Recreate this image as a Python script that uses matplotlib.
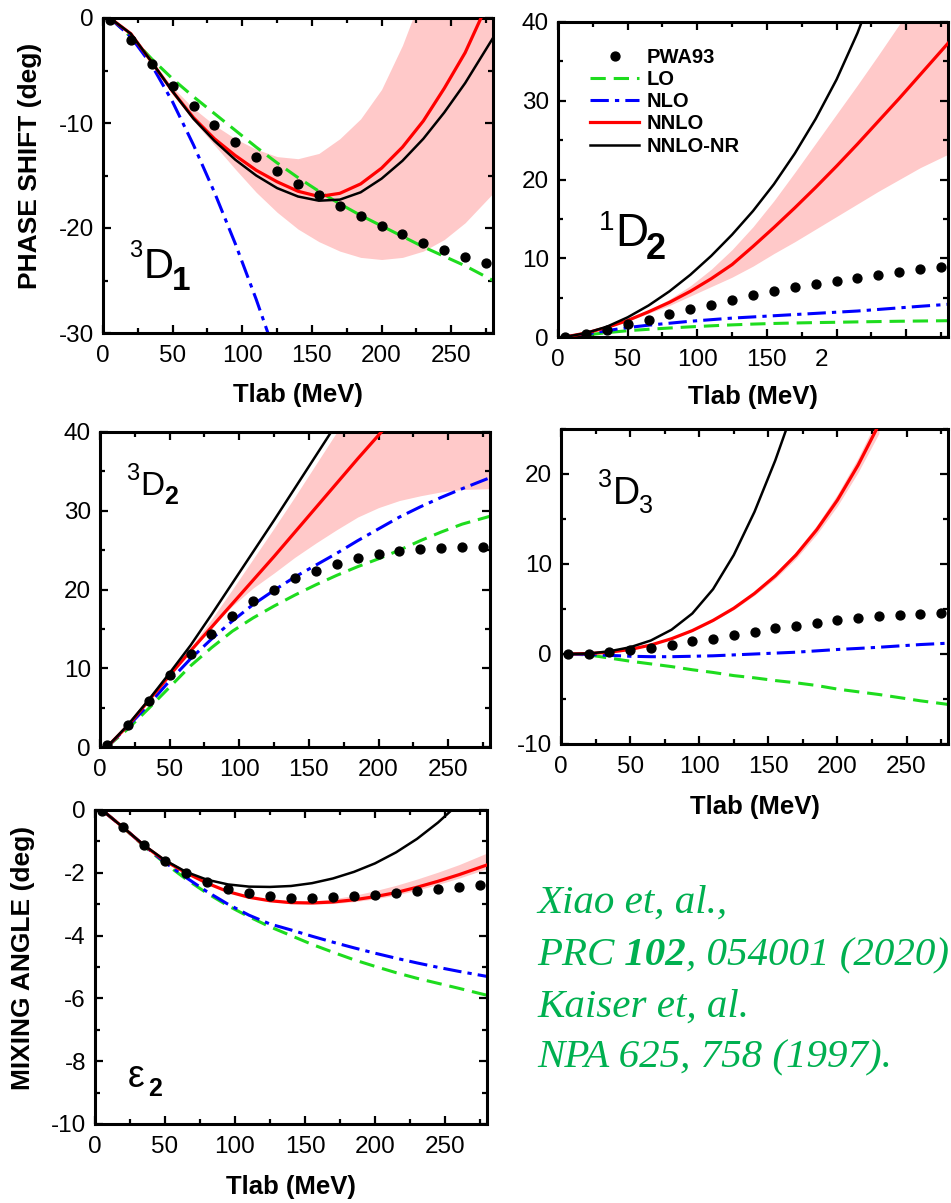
import matplotlib
matplotlib.use('Agg')
import matplotlib.pyplot as plt
from matplotlib.ticker import MultipleLocator, FixedLocator, FixedFormatter
import matplotlib.transforms as mtransforms

plt.rcParams['font.family'] = ['Liberation Sans', 'DejaVu Sans']
plt.rcParams['axes.unicode_minus'] = False

# ---------------- data ----------------
T_PWA = [5, 20, 35, 50, 65, 80, 95, 110, 125, 140, 155, 170, 185, 200, 215, 230, 245, 260, 275]
T_C = [5, 20, 35, 50, 65, 80, 95, 110, 125, 140, 155, 170, 185, 200, 215, 230, 245, 260, 280]

# 3D1
d1_pwa = [-0.2, -2.1, -4.35, -6.5, -8.4, -10.2, -11.8, -13.2, -14.6, -15.8, -16.9, -17.9, -18.9, -19.8, -20.6, -21.4, -22.1, -22.8, -23.3]
d1_lo = [0, -1.8, -3.9, -5.8, -7.5, -9.1, -10.7, -12.3, -13.8, -15.2, -16.5, -17.7, -18.8, -19.8, -20.8, -21.8, -22.7, -23.6, -25.0]
d1_nlo_T = [5, 20, 35, 50, 65, 80, 95, 110, 125]
d1_nlo = [0, -1.8, -4.5, -8.0, -12.1, -16.6, -21.5, -26.8, -32.5]
d1_nnlo = [0, -1.5, -4.2, -7.0, -9.5, -11.5, -13.1, -14.5, -15.6, -16.5, -17.0, -16.7, -15.8, -14.3, -12.3, -9.8, -6.7, -3.3, 2.5]
d1_nr = [0, -1.5, -4.2, -7.0, -9.6, -11.7, -13.5, -15.0, -16.2, -17.0, -17.4, -17.3, -16.6, -15.3, -13.6, -11.5, -9.0, -6.2, -1.9]
d1_band_hi = [0, -1.5, -4.1, -6.6, -8.6, -10.2, -11.5, -12.5, -13.2, -13.4, -12.9, -11.5, -9.6, -6.8, -2.6, 2.6, 8.5, 15.0, 24.0]
d1_band_lo = [0, -1.5, -4.3, -7.3, -9.8, -12.1, -14.4, -16.6, -18.5, -20.1, -21.3, -22.2, -22.8, -23.0, -22.8, -22.2, -21.1, -19.5, -16.7]

# 1D2
s2_pwa = [0, 0.4, 0.9, 1.6, 2.2, 2.9, 3.5, 4.1, 4.7, 5.3, 5.8, 6.3, 6.7, 7.1, 7.5, 7.9, 8.2, 8.6, 8.9]
s2_lo = [0, 0.25, 0.55, 0.8, 0.98, 1.14, 1.29, 1.42, 1.54, 1.64, 1.72, 1.78, 1.83, 1.87, 1.92, 1.96, 2.0, 2.03, 2.07]
s2_nlo = [0, 0.35, 0.8, 1.2, 1.5, 1.75, 2.0, 2.2, 2.4, 2.55, 2.7, 2.85, 3.0, 3.15, 3.3, 3.5, 3.7, 3.9, 4.15]
s2_nnlo = [0, 0.5, 1.2, 2.1, 3.2, 4.4, 5.8, 7.4, 9.2, 11.5, 13.9, 16.4, 19.0, 21.7, 24.5, 27.4, 30.3, 33.3, 37.3]
s2_nr_T = [5, 20, 35, 50, 65, 80, 95, 110, 125, 140, 155, 170, 185, 200, 215, 230]
s2_nr = [0, 0.5, 1.3, 2.5, 4.0, 5.8, 7.9, 10.3, 13.0, 16.0, 19.4, 23.3, 27.7, 32.7, 38.6, 45.5]
s2_band_hi = [0, 0.5, 1.25, 2.2, 3.4, 4.8, 6.5, 8.6, 11.1, 14.0, 17.3, 20.9, 24.6, 28.3, 32.0, 35.8, 39.7, 43.7, 49.0]
s2_band_lo = [0, 0.5, 1.15, 2.0, 3.0, 4.0, 5.2, 6.4, 7.6, 9.0, 10.6, 12.1, 13.7, 15.3, 16.9, 18.5, 20.0, 21.5, 23.2]

# 3D2
d2_pwa = [0.2, 2.8, 5.9, 9.1, 11.8, 14.4, 16.6, 18.5, 20.0, 21.4, 22.4, 23.3, 24.0, 24.5, 24.9, 25.2, 25.3, 25.4, 25.4]
d2_lo = [0, 2.3, 4.9, 7.6, 10.3, 12.6, 14.7, 16.4, 17.9, 19.3, 20.6, 21.8, 22.9, 23.9, 25.0, 26.2, 27.3, 28.3, 29.3]
d2_nlo = [0, 2.6, 5.4, 8.4, 11.2, 13.7, 16.0, 18.1, 19.9, 21.6, 23.1, 24.6, 26.2, 27.7, 29.2, 30.5, 31.7, 32.8, 34.2]
d2_nnlo_T = [5, 20, 35, 50, 65, 80, 95, 110, 125, 140, 155, 170, 185, 200, 215]
d2_nnlo = [0, 2.7, 5.9, 9.1, 12.2, 15.2, 18.2, 21.2, 24.2, 27.3, 30.4, 33.5, 36.6, 39.6, 42.6]
d2_nr_T = [5, 20, 35, 50, 65, 80, 95, 110, 125, 140, 155, 170, 185]
d2_nr = [0, 2.8, 6.0, 9.4, 12.9, 16.8, 20.8, 24.8, 28.8, 32.9, 37.0, 41.1, 45.0]
d2_band_hi = [0, 2.75, 5.95, 9.3, 12.6, 16.2, 20.0, 23.9, 27.8, 31.8, 35.9, 40.0, 44.0, 48.0, 52.0, 56.0, 60.0, 64.0, 69.0]
d2_band_lo = [0, 2.7, 5.9, 9.1, 12.3, 15.2, 17.9, 20.2, 22.1, 24.1, 25.9, 27.6, 29.2, 30.4, 31.3, 31.9, 32.4, 32.7, 32.8]

# 3D3
d3_pwa = [0, 0, 0.2, 0.4, 0.7, 1.0, 1.4, 1.7, 2.1, 2.5, 2.85, 3.15, 3.5, 3.8, 4.0, 4.2, 4.3, 4.45, 4.55]
d3_lo = [0, -0.1, -0.45, -0.8, -1.1, -1.4, -1.75, -2.05, -2.4, -2.65, -2.95, -3.2, -3.5, -3.9, -4.2, -4.5, -4.85, -5.2, -5.6]
d3_nlo = [0, -0.05, -0.15, -0.25, -0.3, -0.3, -0.25, -0.2, -0.1, 0.0, 0.1, 0.2, 0.35, 0.5, 0.62, 0.75, 0.9, 1.05, 1.2]
d3_nnlo_T = [5, 20, 35, 50, 65, 80, 95, 110, 125, 140, 155, 170, 185, 200, 215, 230]
d3_nnlo = [0, 0.05, 0.2, 0.5, 1.0, 1.7, 2.6, 3.73, 5.08, 6.73, 8.68, 11.0, 13.8, 17.1, 21.0, 25.5]
d3_nr_T = [5, 20, 35, 50, 65, 80, 95, 110, 125, 140, 155, 170]
d3_nr = [0, 0.05, 0.3, 0.75, 1.5, 2.7, 4.5, 7.2, 11.0, 15.8, 21.5, 28.0]
d3_band_hi = [0, 0.05, 0.2, 0.5, 1.0, 1.75, 2.68, 3.83, 5.23, 6.93, 8.98, 11.4, 14.3, 17.75, 21.8, 26.5]
d3_band_lo = [0, 0.05, 0.2, 0.5, 1.0, 1.65, 2.52, 3.63, 4.93, 6.53, 8.38, 10.6, 13.3, 16.45, 20.2, 24.5]

# epsilon 2
e2_pwa = [-0.03, -0.53, -1.11, -1.61, -2.0, -2.28, -2.52, -2.63, -2.74, -2.79, -2.79, -2.77, -2.74, -2.70, -2.63, -2.57, -2.50, -2.46, -2.40]
e2_lo = [0, -0.55, -1.15, -1.7, -2.2, -2.65, -3.05, -3.4, -3.72, -4.0, -4.28, -4.53, -4.77, -4.98, -5.18, -5.36, -5.52, -5.68, -5.9]
e2_nlo = [0, -0.55, -1.13, -1.67, -2.15, -2.6, -3.0, -3.35, -3.63, -3.82, -4.02, -4.21, -4.39, -4.56, -4.72, -4.87, -5.01, -5.14, -5.3]
e2_nnlo = [0, -0.55, -1.13, -1.62, -2.0, -2.33, -2.6, -2.78, -2.89, -2.95, -2.96, -2.93, -2.86, -2.76, -2.63, -2.46, -2.27, -2.06, -1.75]
e2_nr = [0, -0.55, -1.12, -1.6, -1.97, -2.22, -2.37, -2.44, -2.45, -2.42, -2.33, -2.18, -1.97, -1.70, -1.35, -0.92, -0.40, 0.21, 1.1]
e2_band_hi = [0, -0.55, -1.13, -1.62, -2.0, -2.33, -2.6, -2.77, -2.87, -2.92, -2.9, -2.83, -2.72, -2.57, -2.4, -2.2, -1.98, -1.74, -1.37]
e2_band_lo = [0, -0.55, -1.13, -1.62, -2.0, -2.33, -2.6, -2.79, -2.91, -2.98, -3.0, -2.98, -2.92, -2.83, -2.71, -2.55, -2.37, -2.17, -1.87]

legend_labels = ['PWA93', 'LO', 'NLO', 'NNLO', 'NNLO-NR']
p2_xticks = [0, 50, 100, 150, 200, 250]
p2_xticklabels = ['0', '50', '100', '150', '2', '']

citation_lines = ['Xiao et, al.,', 'PRC', ' 102', ', 054001 (2020)', 'Kaiser et, al.', 'NPA 625, 758 (1997).']

# ---------------- styles ----------------
C_LO = '#1EDC1E'
C_NLO = '#0000FF'
C_NNLO = '#FF0000'
C_NR = '#000000'
C_BAND = '#FFC9C9'
C_CITE = '#00B050'
LS_LO = (0, (5.0, 2.6))
LS_NLO = (0, (6.0, 2.0, 1.4, 2.0))

W, H = 951, 1203
fig = plt.figure(figsize=(W / 100, H / 100), dpi=100)


def add_axes_px(x0, y0, x1, y1):
    return fig.add_axes([x0 / W, 1 - y1 / H, (x1 - x0) / W, (y1 - y0) / H])


def style(ax, ylim, ymaj, ymin):
    ax.set_xlim(0, 280)
    ax.set_ylim(*ylim)
    ax.xaxis.set_major_locator(MultipleLocator(50))
    ax.xaxis.set_minor_locator(MultipleLocator(25))
    ax.yaxis.set_major_locator(MultipleLocator(ymaj))
    ax.yaxis.set_minor_locator(MultipleLocator(ymin))
    ax.tick_params(which='both', direction='in', top=True, right=True,
                   width=1.6, labelsize=17.5, colors='black')
    ax.tick_params(which='major', length=5.5)
    ax.tick_params(which='minor', length=3.5)
    ax.tick_params(axis='x', which='major', pad=8.5)
    ax.tick_params(axis='y', which='major', pad=6.5)
    for s in ax.spines.values():
        s.set_linewidth(2.2)


def draw(ax, pwa, lo, nlo, nnlo, nr, band_hi, band_lo,
         nlo_T=T_C, nnlo_T=T_C, nr_T=T_C, band_T=T_C):
    ax.fill_between(band_T, band_lo, band_hi, color=C_BAND, lw=0, zorder=1)
    h_lo, = ax.plot(T_C, lo, color=C_LO, lw=2.2, ls=LS_LO, zorder=2)
    h_nlo, = ax.plot(nlo_T, nlo, color=C_NLO, lw=2.2, ls=LS_NLO, zorder=2)
    h_nnlo, = ax.plot(nnlo_T, nnlo, color=C_NNLO, lw=2.3, zorder=3)
    h_nr, = ax.plot(nr_T, nr, color=C_NR, lw=1.8, zorder=3)
    h_pwa, = ax.plot(T_PWA, pwa, 'o', color='black', ms=6.4, zorder=4, lw=0)
    return [h_pwa, h_lo, h_nlo, h_nnlo, h_nr]


def wave_label(ax, xa, ya, main, sup, sub, s_main, s_sup, s_sub,
               ink_w=0.592, sub_bold=True, sup_dy=0.0):
    ax.text(xa, ya, main, transform=ax.transAxes, fontsize=s_main,
            ha='left', va='baseline')
    if sup:
        ax.annotate(sup, xy=(xa, ya), xycoords='axes fraction',
                    xytext=(-0.5, 0.69 * s_main - 0.35 * s_sup + sup_dy),
                    textcoords='offset points', ha='right', va='baseline',
                    fontsize=s_sup)
    ax.annotate(sub, xy=(xa, ya), xycoords='axes fraction',
                xytext=(ink_w * s_main + 3.0, -0.35 * s_sub),
                textcoords='offset points', ha='left', va='baseline',
                fontsize=s_sub, fontweight='bold' if sub_bold else 'normal')


XL = dict(fontsize=18.5, fontweight='bold', va='center')
YL = dict(fontsize=19, fontweight='bold', va='center')

# ---- panel 1: 3D1
ax1 = add_axes_px(103, 18, 493, 333)
draw(ax1, d1_pwa, d1_lo, d1_nlo, d1_nnlo, d1_nr, d1_band_hi, d1_band_lo, nlo_T=d1_nlo_T)
style(ax1, (-30, 0), 10, 5)
ax1.set_xlabel('Tlab (MeV)', **XL)
ax1.xaxis.set_label_coords(0.5, -0.197)
ax1.set_ylabel('PHASE SHIFT (deg)', **YL)
ax1.yaxis.set_label_coords(-0.187, 0.53)
wave_label(ax1, 0.103, 0.175, 'D', '3', '1', 30, 17, 24)

# ---- panel 2: 1D2
ax2 = add_axes_px(558, 22, 948, 337)
handles = draw(ax2, s2_pwa, s2_lo, s2_nlo, s2_nnlo, s2_nr, s2_band_hi, s2_band_lo, nr_T=s2_nr_T)
style(ax2, (0, 40), 10, 5)
ax2.xaxis.set_major_locator(FixedLocator(p2_xticks))
ax2.xaxis.set_major_formatter(FixedFormatter(p2_xticklabels))
ax2.set_xlabel('Tlab (MeV)', **XL)
ax2.xaxis.set_label_coords(0.5, -0.19)
wave_label(ax2, 0.146, 0.289, 'D', '1', '2', 33, 20, 26, sup_dy=-4)
leg = ax2.legend(handles, legend_labels, loc='upper left', bbox_to_anchor=(0.082, 0.918),
                 frameon=False, prop=dict(size=14.5, weight='bold'), handlelength=2.45,
                 handletextpad=0.35, labelspacing=0.16, borderpad=0, borderaxespad=0,
                 numpoints=1)
lbl = ax2.get_xticklabels()[4]
lbl.set_transform(lbl.get_transform() + mtransforms.ScaledTranslation(-14.6 / 100, 0, fig.dpi_scale_trans))

# ---- panel 3: 3D2
ax3 = add_axes_px(100, 432, 490, 747)
draw(ax3, d2_pwa, d2_lo, d2_nlo, d2_nnlo, d2_nr, d2_band_hi, d2_band_lo,
     nnlo_T=d2_nnlo_T, nr_T=d2_nr_T)
style(ax3, (0, 40), 10, 5)
wave_label(ax3, 0.103, 0.80, 'D', '3', '2', 24, 17, 18)

# ---- panel 4: 3D3
ax4 = add_axes_px(561, 429, 948, 744)
draw(ax4, d3_pwa, d3_lo, d3_nlo, d3_nnlo, d3_nr, d3_band_hi, d3_band_lo,
     nnlo_T=d3_nnlo_T, nr_T=d3_nr_T, band_T=d3_nnlo_T)
style(ax4, (-10, 25), 10, 5)
ax4.set_xlabel('Tlab (MeV)', **XL)
ax4.xaxis.set_label_coords(0.5, -0.2)
wave_label(ax4, 0.134, 0.761, 'D', '3', '3', 27, 18, 18, sub_bold=False)

# ---- panel 5: epsilon 2
ax5 = add_axes_px(95, 810, 487, 1124)
draw(ax5, e2_pwa, e2_lo, e2_nlo, e2_nnlo, e2_nr, e2_band_hi, e2_band_lo)
style(ax5, (-10, 0), 2, 1)
ax5.set_xlabel('Tlab (MeV)', **XL)
ax5.xaxis.set_label_coords(0.5, -0.2)
ax5.set_ylabel('MIXING ANGLE (deg)', **YL)
ax5.yaxis.set_label_coords(-0.184, 0.53)
wave_label(ax5, 0.084, 0.118, '\u03b5', None, '2', 27, 0, 18, ink_w=0.42)

# ---- citation text
axt = fig.add_axes([0, 0, 1, 1], zorder=-5)
axt.axis('off')
CT = dict(family=['Liberation Serif', 'DejaVu Serif'], style='italic', fontsize=29.5, color=C_CITE)
X0 = 537 / W
axt.text(X0, 1 - 913 / H, citation_lines[0], transform=fig.transFigure, va='baseline', ha='left', **CT)
t_a = axt.text(X0, 1 - 965 / H, citation_lines[1], transform=fig.transFigure, va='baseline', ha='left', **CT)
t_b = axt.annotate(citation_lines[2], xy=(1, 0), xycoords=t_a, xytext=(0, 0), textcoords='offset points',
                   va='bottom', ha='left', fontweight='bold', **CT)
axt.annotate(citation_lines[3], xy=(1, 0), xycoords=t_b, xytext=(0, 0), textcoords='offset points',
             va='bottom', ha='left', **CT)
axt.text(X0, 1 - 1017 / H, citation_lines[4], transform=fig.transFigure, va='baseline', ha='left', **CT)
axt.text(X0, 1 - 1067 / H, citation_lines[5], transform=fig.transFigure, va='baseline', ha='left', **CT)

fig.savefig('out.png', dpi=100)
